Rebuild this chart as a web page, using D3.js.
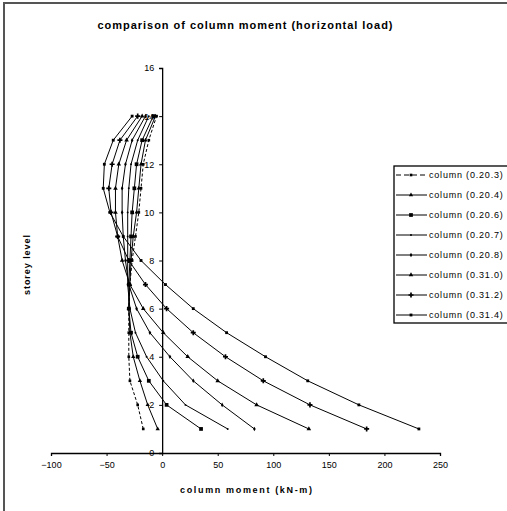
<!DOCTYPE html>
<html>
<head>
  <meta charset="UTF-8">
  <title>column moment</title>
  <script src="https://d3js.org/d3.v7.min.js"></script>
  <style>
    body { margin: 0; background: #fff; }
    svg { font-family: "Liberation Sans", Arial, sans-serif; }
    .axis path, .axis line { stroke: #000; }
    .axis text { font-size: 9px; fill: #000; }
  </style>
</head>
<body>
<svg width="507" height="511"></svg>
<script>
  // storey levels 1..14
  var levels = [1, 2, 3, 4, 5, 6, 7, 8, 9, 10, 11, 12, 13, 14]

  var seriesNames = ["column (0.20.3)", "column (0.20.4)", "column (0.20.6)", "column (0.20.7)",
                     "column (0.20.8)", "column (0.31.0)", "column (0.31.2)", "column (0.31.4)"]

  // column moment (kN-m) at each storey
  var m0203 = [-17, -22, -29, -30, -30, -30, -29, -27, -24, -21, -19, -17, -12, -5]
  var m0204 = [-4, -13, -20, -26, -29, -30, -29, -28, -26, -23, -21, -19, -15, -6]
  var m0206 = [35, 4, -12, -22, -28, -30, -30, -29, -28, -27, -25, -23, -18, -8]
  var m0207 = [59, 21, 1, -14, -24, -29, -31, -31, -31, -31, -30, -28, -22, -12]
  var m0208 = [83, 54, 28, 7, -11, -23, -30, -33, -35, -36, -36, -33, -27, -15]
  var m0310 = [132, 85, 50, 23, 1, -17, -29, -36, -40, -42, -42, -39, -32, -18]
  var m0312 = [184, 133, 91, 57, 28, 4, -15, -30, -40, -46, -48, -45, -38, -22]
  var m0314 = [231, 177, 131, 93, 58, 28, 3, -19, -35, -47, -53, -52, -44, -27]

  var xTicks = [-100, -50, 0, 50, 100, 150, 200, 250]
  var yTicks = [0, 2, 4, 6, 8, 10, 12, 14, 16]

  var allSeries = [m0203, m0204, m0206, m0207, m0208, m0310, m0312, m0314]
  var symbols = [d3.symbolSquare, d3.symbolTriangle, d3.symbolSquare, d3.symbolCircle,
                 d3.symbolDiamond, d3.symbolTriangle, d3.symbolCross, d3.symbolSquare]
  var symSizes = [7, 8, 14, 3, 6, 9, 14, 8]

  var svg = d3.select("svg")

  // outer frame
  svg.append("rect")
    .attr("x", 4).attr("y", 3).attr("width", 560).attr("height", 560)
    .attr("fill", "none").attr("stroke", "#555").attr("stroke-width", 2)

  var x = d3.scaleLinear().domain([-100, 250]).range([51, 440])
  var y = d3.scaleLinear().domain([0, 16]).range([453, 68])

  svg.append("g")
    .attr("class", "axis")
    .attr("transform", "translate(0," + y(0) + ")")
    .call(d3.axisBottom(x).tickValues(xTicks).tickSize(3).tickSizeOuter(3).tickPadding(6))
    .call(function(g) { g.select(".domain").attr("stroke-width", 1.3) })
    .call(function(g) { g.selectAll("text").attr("font-family", "Liberation Sans, Arial, sans-serif") })

  svg.append("g")
    .attr("class", "axis")
    .attr("transform", "translate(" + x(0) + ",0)")
    .call(d3.axisLeft(y).tickValues(yTicks).tickSize(3).tickSizeOuter(3).tickPadding(5))
    .call(function(g) { g.select(".domain").attr("stroke-width", 1.3) })
    .call(function(g) { g.selectAll("text").attr("font-family", "Liberation Sans, Arial, sans-serif") })

  var line = d3.line()
    .x(function(d) { return x(d.v) })
    .y(function(d) { return y(d.lv) })

  allSeries.forEach(function(vals, i) {
    var pts = vals.map(function(v, j) { return { v: v, lv: levels[j] } })
    svg.append("path")
      .datum(pts)
      .attr("fill", "none")
      .attr("stroke", "#000")
      .attr("stroke-width", 1)
      .attr("stroke-dasharray", i == 0 ? "3,2" : null)
      .attr("d", line)

    svg.append("g").selectAll("path")
      .data(pts)
      .enter().append("path")
      .attr("transform", function(d) { return "translate(" + x(d.v) + "," + y(d.lv) + ")" })
      .attr("d", d3.symbol().type(symbols[i]).size(symSizes[i]))
      .attr("fill", "#000")
  })

  // legend
  var legend = svg.append("g")
  legend.append("rect")
    .attr("x", 394).attr("y", 166).attr("width", 130).attr("height", 157)
    .attr("fill", "#fff").attr("stroke", "#000").attr("stroke-width", 1.3)

  seriesNames.forEach(function(name, i) {
    var ly = 175 + i * 20
    legend.append("line")
      .attr("x1", 396).attr("x2", 427).attr("y1", ly).attr("y2", ly)
      .attr("stroke", "#000").attr("stroke-width", 1)
      .attr("stroke-dasharray", i == 0 ? "5,3" : null)
    legend.append("path")
      .attr("transform", "translate(411," + ly + ")")
      .attr("d", d3.symbol().type(symbols[i]).size(symSizes[i]))
      .attr("fill", "#000")
    legend.append("text")
      .attr("x", 429).attr("y", ly + 3)
      .attr("font-size", "9px")
      .attr("letter-spacing", "0.8px")
      .text(name)
  })

  // titles
  svg.append("text")
    .attr("x", 245).attr("y", 29)
    .attr("text-anchor", "middle")
    .attr("font-size", "11px").attr("font-weight", "bold")
    .attr("textLength", 295).attr("lengthAdjust", "spacing")
    .text("comparison of column moment (horizontal load)")

  svg.append("text")
    .attr("transform", "translate(30,265) rotate(-90)")
    .attr("text-anchor", "middle")
    .attr("font-size", "9px").attr("font-weight", "bold")
    .attr("textLength", 60).attr("lengthAdjust", "spacing")
    .text("storey level")

  svg.append("text")
    .attr("x", 246).attr("y", 493)
    .attr("text-anchor", "middle")
    .attr("font-size", "9px").attr("font-weight", "bold")
    .attr("textLength", 132).attr("lengthAdjust", "spacing")
    .text("column moment (kN-m)")
</script>
</body>
</html>
